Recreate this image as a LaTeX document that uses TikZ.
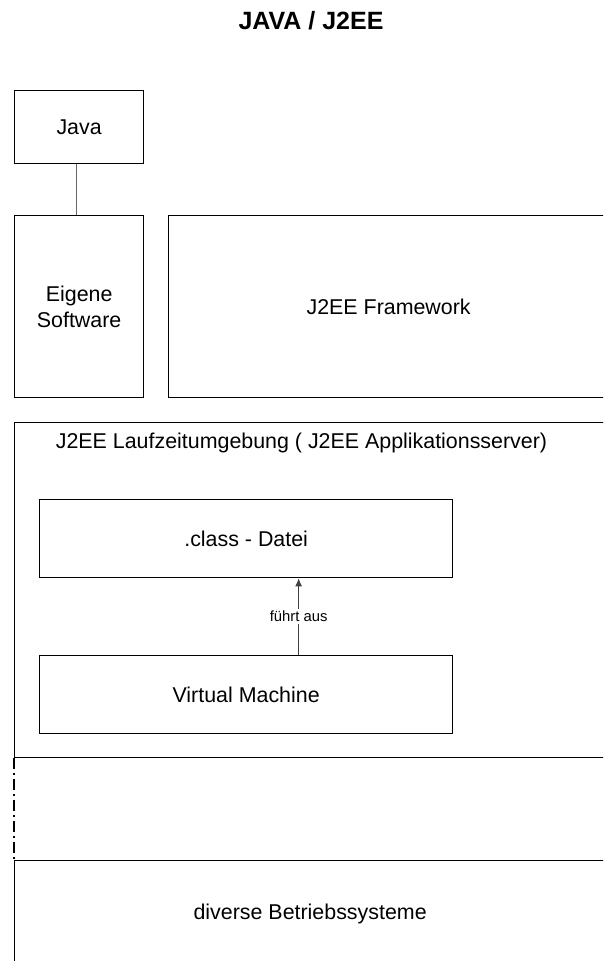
\documentclass[tikz,border=0pt]{standalone}
\usepackage{fontspec}
\setmainfont{Liberation Sans}
\usetikzlibrary{arrows.meta,positioning}
\tikzset{
    %Define standard arrow tip
    >={Latex[length=8pt,width=7pt]},
    %Define style for boxes
    kasten/.style={
           rectangle,
           draw=black, line width=1.3pt,
           anchor=north west,
           inner sep=0pt,
           font=\fontsize{21.4}{26}\selectfont,
           align=center},
    beschriftung/.style={
           font=\fontsize{21.4}{26}\selectfont},
    % Define line and arrow style
    linie/.style={
           draw=black!60,
           line width=1pt},
    pfeil/.style={
           ->,
           draw=black!75,
           line width=1pt}
}

\begin{document}
\begin{tikzpicture}[x=1pt,y=-1pt]
\useasboundingbox (0,0) rectangle (603,961);
\clip (0,0) rectangle (603,961);
 %nodes
\node[font=\bfseries\fontsize{25}{30}\selectfont] (titel) at (311,21) {JAVA / J2EE};
\node[kasten, minimum width=129pt, minimum height=73pt] (java) at (14,90) {Java};
\node[kasten, minimum width=129pt, minimum height=182pt] (eigen) at (14,215) {Eigene\\Software};
\node[kasten, minimum width=440pt, minimum height=182pt] (framework) at (168,215) {J2EE Framework};
\node[kasten, minimum width=620pt, minimum height=335pt] (laufzeit) at (14,422) {};
\node[beschriftung] (laufzeittext) at (301.5,443) {J2EE Laufzeitumgebung ( J2EE Applikationsserver)};
\node[kasten, minimum width=413pt, minimum height=78pt] (klasse) at (39,499) {.class - Datei};
\node[kasten, minimum width=413pt, minimum height=78pt] (vm) at (39,655) {Virtual Machine};
\node[kasten, minimum width=591pt, minimum height=106pt] (os) at (14,860) {diverse Betriebssysteme};
 %connectors
\draw[linie] ([xshift=-2.5pt]java.south) -- ([xshift=-2.5pt]eigen.north);
\draw[pfeil] ([xshift=52.5pt]vm.north) -- ([xshift=52.5pt]klasse.south)
   node[midway, fill=white, inner sep=2pt, font=\fontsize{14.8}{16}\selectfont] (fuehrt) {führt aus};
\draw[line width=1.3pt, dash pattern=on 11pt off 4pt on 2pt off 4pt] (laufzeit.south west) -- (os.north west);
\end{tikzpicture}
\end{document}
